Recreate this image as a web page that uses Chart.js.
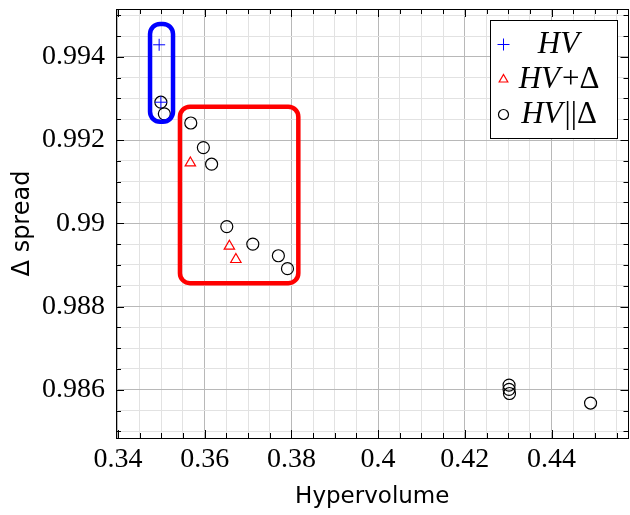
<!DOCTYPE html>
<html>
<head>
<meta charset="utf-8">
<script src="https://cdn.jsdelivr.net/npm/chart.js@4.4.1/dist/chart.umd.min.js"></script>
<style>
  html, body { margin: 0; padding: 0; background: #fff; }
</style>
</head>
<body>
<canvas id="frontChart" width="630" height="515"></canvas>
<script>
// Points: [hypervolume, delta spread]
const hvX = [0.3495, 0.3499];
const hvY = [0.99429, 0.99291];

const hvPlusX = [0.3567, 0.3657, 0.3672];
const hvPlusY = [0.99145, 0.98945, 0.98913];

const hvParX = [0.3499, 0.3507, 0.3568, 0.3597, 0.3616, 0.3651, 0.3711, 0.3770, 0.3791, 0.4302, 0.4302, 0.4303, 0.4490];
const hvParY = [0.99291, 0.99263, 0.99241, 0.99182, 0.99142, 0.98992, 0.98950, 0.98922, 0.98891, 0.98611, 0.98601, 0.98591, 0.98568];

// Tick labels
const xTickLabels = [0.34, 0.36, 0.38, 0.4, 0.42, 0.44];
const yTickLabels = [0.986, 0.988, 0.99, 0.992, 0.994];

// Highlight boxes in data units: [xmin, xmax, ymin, ymax]
const blueBox = [0.3474, 0.3527, 0.99244, 0.99479];
const redBox = [0.3543, 0.3816, 0.98856, 0.99280];

const legendLabels = ['HV', 'HV+Δ', 'HV||Δ'];

const toPoints = (xs, ys) => xs.map((x, i) => ({ x: x, y: ys[i] }));
const isMajor = (list, v) => list.some(t => Math.abs(t - v) < 1e-9);

const serif = '"Liberation Serif", "DejaVu Serif", serif';
const sans = '"DejaVu Sans", sans-serif';

// minor grid every quarter of a major step
function minorTicks(from, to, step) {
    const out = [];
    const n = Math.round((to - from) / step);
    for (let i = 0; i <= n; i++) out.push({ value: +(from + i * step).toFixed(6) });
    return out;
}

const boxesPlugin = {
    id: 'boxes',
    afterDatasetsDraw(chart) {
        const { ctx, scales: { x, y } } = chart;
        [[blueBox, '#0000ff'], [redBox, '#ff0000']].forEach(([b, col]) => {
            const l = x.getPixelForValue(b[0]), r = x.getPixelForValue(b[1]);
            const t = y.getPixelForValue(b[3]), btm = y.getPixelForValue(b[2]);
            ctx.save();
            ctx.strokeStyle = col;
            ctx.lineWidth = 4.5;
            ctx.beginPath();
            ctx.roundRect(l, t, r - l, btm - t, 10);
            ctx.stroke();
            ctx.restore();
        });
    }
};

function drawMixed(ctx, text, cx, cy, size) {
    const runs = [];
    for (const ch of text) {
        const it = /[A-Za-z]/.test(ch);
        if (runs.length && runs[runs.length - 1].it === it) runs[runs.length - 1].t += ch;
        else runs.push({ t: ch, it: it });
    }
    let total = 0;
    runs.forEach(r => {
        ctx.font = (r.it ? 'italic ' : '') + size + 'px ' + serif;
        r.w = ctx.measureText(r.t).width + (r.it ? 2 : 1);
        total += r.w;
    });
    let xx = cx - total / 2;
    ctx.textBaseline = 'middle';
    ctx.textAlign = 'left';
    runs.forEach(r => {
        ctx.font = (r.it ? 'italic ' : '') + size + 'px ' + serif;
        ctx.fillText(r.t, xx, cy);
        xx += r.w;
    });
}

const framePlugin = {
    id: 'frame',
    afterDraw(chart) {
        const { ctx, chartArea: a, scales: { x, y } } = chart;
        ctx.save();
        ctx.strokeStyle = '#000';
        ctx.lineWidth = 1;
        // tick marks on all four sides, pointing inwards
        ctx.beginPath();
        x.ticks.forEach(t => {
            const px = Math.round(x.getPixelForValue(t.value)) + 0.5;
            if (px <= a.left + 1 || px >= a.right - 1) return;
            const len = isMajor(xTickLabels, t.value) ? 8 : 5;
            ctx.moveTo(px, a.bottom); ctx.lineTo(px, a.bottom - len);
            ctx.moveTo(px, a.top); ctx.lineTo(px, a.top + len);
        });
        y.ticks.forEach(t => {
            const py = Math.round(y.getPixelForValue(t.value)) + 0.5;
            if (py <= a.top + 1 || py >= a.bottom - 1) return;
            const len = isMajor(yTickLabels, t.value) ? 8 : 5;
            ctx.moveTo(a.left, py); ctx.lineTo(a.left + len, py);
            ctx.moveTo(a.right, py); ctx.lineTo(a.right - len, py);
        });
        ctx.stroke();
        ctx.strokeRect(Math.round(a.left) + 0.5, Math.round(a.top) + 0.5, Math.round(a.right - a.left) - 1, Math.round(a.bottom - a.top));

        // legend in the top right corner
        const w = 127, h = 118;
        const lx = Math.round(a.right - 12 - w) + 0.5, ly = Math.round(a.top + 11) + 0.5;
        ctx.fillStyle = '#fff';
        ctx.fillRect(lx, ly, w, h);
        ctx.strokeRect(lx, ly, w, h);
        chart.data.datasets.forEach((ds, i) => {
            const cy = ly + 24 + i * 35;
            ctx.fillStyle = 'rgba(0,0,0,0)';
            ctx.strokeStyle = ds.borderColor;
            ctx.lineWidth = ds.borderWidth;
            Chart.helpers.drawPoint(ctx, {
                pointStyle: ds.pointStyle, radius: ds.pointStyle === 'cross' ? 6 : 5, rotation: 0,
                borderWidth: ds.borderWidth
            }, lx + 13, cy);
            ctx.fillStyle = '#000';
            drawMixed(ctx, legendLabels[i], lx + 69, cy, 31);
        });
        ctx.restore();
    }
};

const gridColor = list => c => isMajor(list, c.tick.value) ? '#b8b8b8' : '#e2e2e2';

new Chart(document.getElementById('frontChart').getContext('2d'), {
    type: 'scatter',
    data: {
        datasets: [
            {
                label: 'HV',
                data: toPoints(hvX, hvY),
                pointStyle: 'cross',
                pointRadius: 6,
                borderColor: '#0000ff',
                borderWidth: 1,
                backgroundColor: 'transparent'
            },
            {
                label: 'HV+Δ',
                data: toPoints(hvPlusX, hvPlusY),
                pointStyle: 'triangle',
                pointRadius: 6,
                borderColor: '#ff0000',
                borderWidth: 1.2,
                backgroundColor: 'transparent'
            },
            {
                label: 'HV||Δ',
                data: toPoints(hvParX, hvParY),
                pointStyle: 'circle',
                pointRadius: 6,
                borderColor: '#000',
                borderWidth: 1.2,
                backgroundColor: 'transparent'
            }
        ]
    },
    options: {
        responsive: false,
        animation: false,
        layout: { autoPadding: false, padding: { top: 9, right: 1.5, left: 0, bottom: 0 } },
        plugins: {
            legend: { display: false },
            tooltip: { enabled: false }
        },
        scales: {
            x: {
                type: 'linear',
                min: 0.33955,
                max: 0.45775,
                afterBuildTicks: s => { s.ticks = minorTicks(0.34, 0.455, 0.005); },
                afterFit: s => { s.height = 77; s.paddingLeft = 0; s.paddingRight = 0; },
                border: { display: false },
                grid: { color: gridColor(xTickLabels), drawTicks: false },
                ticks: {
                    autoSkip: false,
                    maxRotation: 0,
                    padding: 5,
                    color: '#000',
                    font: { family: serif, size: 28 },
                    callback: v => isMajor(xTickLabels, v) ? String(+v.toFixed(4)) : ''
                },
                title: {
                    display: true,
                    text: 'Hypervolume',
                    color: '#000',
                    font: { family: sans, size: 23 },
                    padding: { top: 4, bottom: 4 }
                }
            },
            y: {
                type: 'linear',
                min: 0.98484,
                max: 0.99515,
                afterBuildTicks: s => { s.ticks = minorTicks(0.985, 0.995, 0.0005); },
                afterFit: s => { s.width = 116; s.paddingTop = 0; s.paddingBottom = 0; },
                border: { display: false },
                grid: { color: gridColor(yTickLabels), drawTicks: false },
                ticks: {
                    autoSkip: false,
                    padding: 11,
                    color: '#000',
                    font: { family: serif, size: 28 },
                    callback: v => isMajor(yTickLabels, v) ? String(+v.toFixed(4)) : ''
                },
                title: {
                    display: true,
                    text: 'Δ spread',
                    color: '#000',
                    font: { family: sans, size: 24 },
                    padding: { top: 8, bottom: 8 }
                }
            }
        }
    },
    plugins: [boxesPlugin, framePlugin]
});
</script>
</body>
</html>
